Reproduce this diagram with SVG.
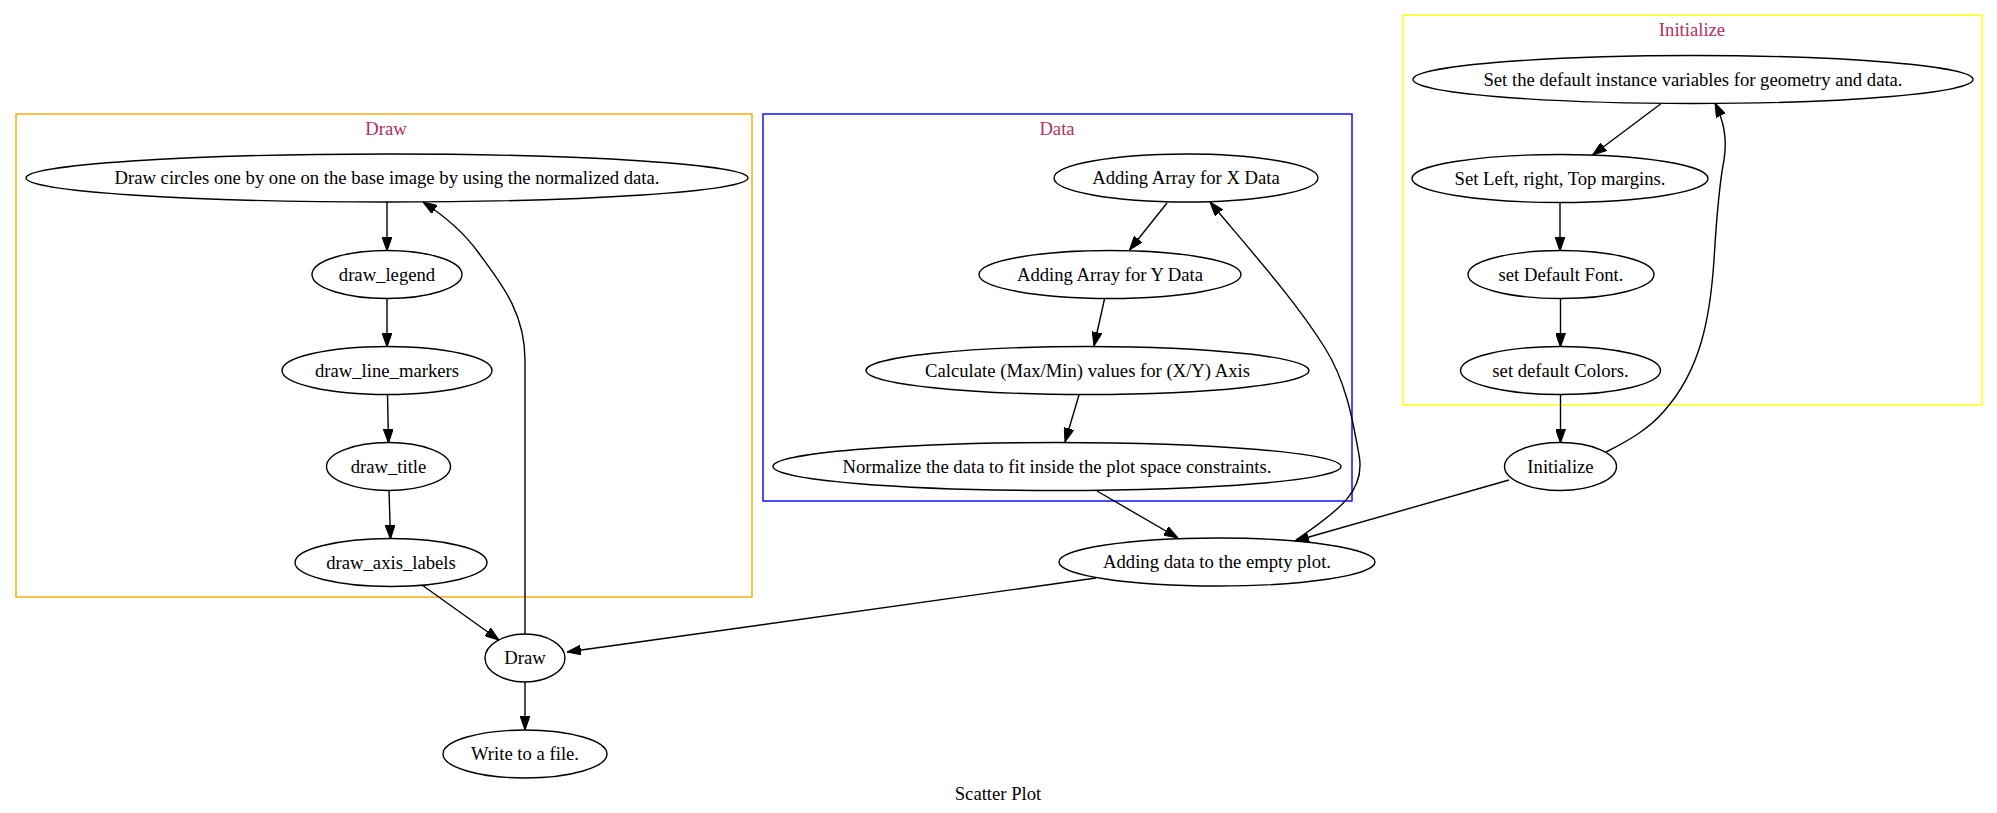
<svg xmlns="http://www.w3.org/2000/svg" width="1997" height="813" viewBox="0 0 1997 813">
<style>
text{font-family:"Liberation Serif","Times New Roman",serif;font-size:18.67px;text-anchor:middle;fill:#000}
.cl{fill:#b03060}
ellipse{fill:none;stroke:#000;stroke-width:1.4}
.e{fill:none;stroke:#000;stroke-width:1.4;marker-end:url(#ah)}
.c{fill:none;stroke-width:1.4}
</style>
<defs>
<marker id="ah" markerUnits="userSpaceOnUse" markerWidth="14" markerHeight="10" viewBox="0 0 13.3 9.33" refX="13.3" refY="4.67" orient="auto">
<path d="M0,0 L13.3,4.67 L0,9.33 z" fill="#000" stroke="#000" stroke-width="1"/>
</marker>
</defs>
<rect width="1997" height="813" fill="#fff"/>
<g id="clusters">
<g id="cluster_draw"><rect class="c" x="16" y="114" width="736" height="483" stroke="#ffa500"/><text class="cl" x="386" y="135">Draw</text></g>
<g id="cluster_data"><rect class="c" x="763" y="114" width="589" height="387" stroke="#0000ff"/><text class="cl" x="1057" y="135">Data</text></g>
<g id="cluster_init"><rect class="c" x="1403" y="15" width="579" height="390" stroke="#ffff00"/><text class="cl" x="1692" y="36">Initialize</text></g>
</g>
<g id="connectors">
<path class="e" d="M387,202 L387,251"/>
<path class="e" d="M387,298 L387,347"/>
<path class="e" d="M387.5,394 L388.5,443"/>
<path class="e" d="M389,490 L390.5,539"/>
<path class="e" d="M422,585 L499,640"/>
<path class="e" d="M525,634 L525,360 C525,310 498,280 478,252 C462,230 443,215 423,202"/>
<path class="e" d="M1167,203 L1129.5,250"/>
<path class="e" d="M1104.5,299 L1094,346"/>
<path class="e" d="M1079,395 L1065,442"/>
<path class="e" d="M1097,491 L1178,538"/>
<path class="e" d="M1296,540 C1340,510 1366,490 1359,455 C1352,415 1345,380 1325,348 C1295,300 1250,250 1210,202"/>
<path class="e" d="M1509,480 L1295,541"/>
<path class="e" d="M1096,578 L567,652"/>
<path class="e" d="M525,682 L525,730"/>
<path class="e" d="M1660.6,104 L1592.6,155"/>
<path class="e" d="M1560,202 L1560,251"/>
<path class="e" d="M1560.5,298 L1560.5,347"/>
<path class="e" d="M1560.5,394 L1560.5,443"/>
<path class="e" d="M1606,452 C1630,440 1650,428 1665,410 C1700,370 1710,320 1714,260 C1717,210 1720,180 1724,160 C1728,135 1722,118 1715,103"/>
</g>
<g id="n_draw_circles"><ellipse cx="387" cy="178" rx="361" ry="24"/><text x="387" y="184">Draw circles one by one on the base image by using the normalized data.</text></g>
<g id="n_draw_legend"><ellipse cx="387" cy="274.5" rx="75" ry="24"/><text x="387" y="280.5">draw_legend</text></g>
<g id="n_draw_line_markers"><ellipse cx="387" cy="370.5" rx="105" ry="24"/><text x="387" y="376.5">draw_line_markers</text></g>
<g id="n_draw_title"><ellipse cx="388.5" cy="466.5" rx="62" ry="24"/><text x="388.5" y="472.5">draw_title</text></g>
<g id="n_draw_axis_labels"><ellipse cx="391" cy="562.5" rx="96" ry="24"/><text x="391" y="568.5">draw_axis_labels</text></g>
<g id="n_draw"><ellipse cx="525" cy="658" rx="40" ry="24"/><text x="525" y="664">Draw</text></g>
<g id="n_write"><ellipse cx="525" cy="754" rx="82" ry="24"/><text x="525" y="760">Write to a file.</text></g>
<g id="n_x"><ellipse cx="1186" cy="178" rx="132" ry="24"/><text x="1186" y="184">Adding Array for X Data</text></g>
<g id="n_y"><ellipse cx="1110" cy="274.5" rx="131" ry="24"/><text x="1110" y="280.5">Adding Array for Y Data</text></g>
<g id="n_calc"><ellipse cx="1087.5" cy="370.5" rx="221.5" ry="24"/><text x="1087.5" y="376.5">Calculate (Max/Min) values for (X/Y) Axis</text></g>
<g id="n_norm"><ellipse cx="1057" cy="466.5" rx="284" ry="24"/><text x="1057" y="472.5">Normalize the data to fit inside the plot space constraints.</text></g>
<g id="n_adding"><ellipse cx="1217" cy="562" rx="158" ry="24"/><text x="1217" y="568">Adding data to the empty plot.</text></g>
<g id="n_setdefault"><ellipse cx="1693" cy="79.5" rx="280" ry="24"/><text x="1693" y="85.5">Set the default instance variables for geometry and data.</text></g>
<g id="n_setleft"><ellipse cx="1560" cy="178.5" rx="148" ry="24"/><text x="1560" y="184.5">Set Left, right, Top margins.</text></g>
<g id="n_font"><ellipse cx="1561" cy="274.5" rx="93" ry="24"/><text x="1561" y="280.5">set Default Font.</text></g>
<g id="n_colors"><ellipse cx="1560.5" cy="370.5" rx="100" ry="24"/><text x="1560.5" y="376.5">set default Colors.</text></g>
<g id="n_initialize"><ellipse cx="1560.5" cy="466.5" rx="56" ry="24"/><text x="1560.5" y="472.5">Initialize</text></g>
<text x="998" y="800">Scatter Plot</text>
</svg>
